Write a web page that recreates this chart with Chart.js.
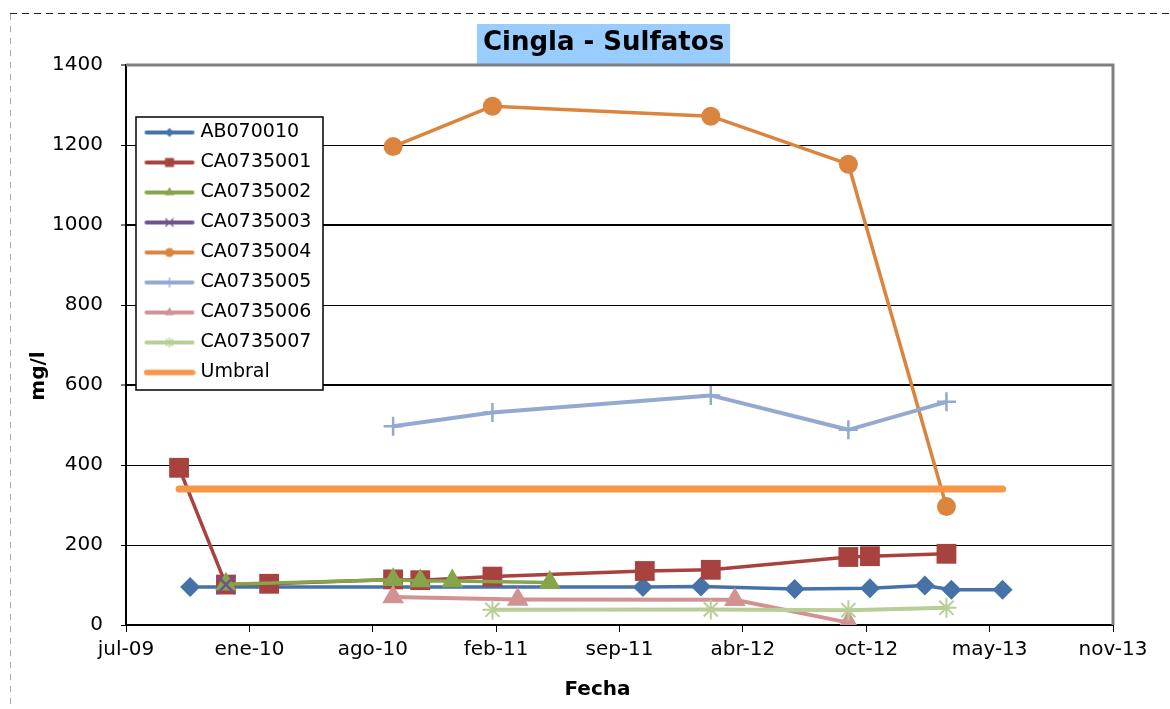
<!DOCTYPE html>
<html>
<head>
<meta charset="utf-8">
<script src="https://cdn.jsdelivr.net/npm/chart.js@4.4.1/dist/chart.umd.min.js"></script>
<style>
html,body{margin:0;padding:0;background:#fff;}
#wrap{position:relative;width:1170px;height:709px;overflow:hidden;}
canvas{display:block;}
</style>
</head>
<body>
<div id="wrap"><canvas id="c" width="1170" height="709"></canvas></div>
<script>
// ---------- DATA ----------
const tickLabels = ['jul-09','ene-10','ago-10','feb-11','sep-11','abr-12','oct-12','may-13','nov-13'];
const yTicks = [0,200,400,600,800,1000,1200,1400];

const fechasAB070010 = ['2009-10-18','2011-10-22','2012-01-24','2012-06-24','2012-10-24','2013-01-21','2013-03-05','2013-05-27'];
const valoresAB070010 = [95, 95, 96, 90, 92, 99, 88, 88];

const fechasCA0735001 = ['2009-09-30','2009-12-15','2010-02-23','2010-09-12','2010-10-26','2011-02-20','2011-10-25','2012-02-09','2012-09-19','2012-10-24','2013-02-25'];
const valoresCA0735001 = [393, 101, 103, 114, 112, 121, 135, 138, 170, 172, 178];

const fechasCA0735002 = ['2009-12-15','2010-09-12','2010-10-26','2010-12-17','2011-05-24'];
const valoresCA0735002 = [102, 113, 110, 110, 106];

const fechasCA0735003 = ['2009-12-15'];
const valoresCA0735003 = [101];

const fechasCA0735004 = ['2010-09-12','2011-02-20','2012-02-09','2012-09-19','2013-02-25'];
const valoresCA0735004 = [1196, 1297, 1272, 1152, 296];

const fechasCA0735005 = ['2010-09-12','2011-02-20','2012-02-09','2012-09-19','2013-02-25'];
const valoresCA0735005 = [497, 531, 574, 488, 558];

const fechasCA0735006 = ['2010-09-12','2011-04-02','2012-03-19','2012-09-19'];
const valoresCA0735006 = [70, 64, 63, 6];

const fechasCA0735007 = ['2011-02-20','2012-02-09','2012-09-19','2013-02-25'];
const valoresCA0735007 = [38, 39, 37, 43];

const fechasUmbral = ['2009-09-30','2013-05-27'];
const valoresUmbral = [340, 340];

// ---------- HELPERS ----------
const EXCEL_EPOCH = Date.UTC(1899, 11, 30);
function serial(f){ return Math.round((Date.parse(f + 'T00:00:00Z') - EXCEL_EPOCH) / 86400000); }
const X_MIN = serial('2009-07-06');   // jul-09
const X_STEP = 200;
const X_MAX = X_MIN + X_STEP * (tickLabels.length - 1);

const FONT = "'DejaVu Sans', sans-serif";
Chart.defaults.font.family = FONT;
Chart.defaults.color = '#000';

const series = [
  {label:'AB070010',  fechas:fechasAB070010,  valores:valoresAB070010,  color:'#4572A7', style:'rectRot',  r:10,   bw:0,   lw:3.5, lr:4.5},
  {label:'CA0735001', fechas:fechasCA0735001, valores:valoresCA0735001, color:'#A8423F', style:'rect',     r:14,   bw:0,   lw:3.5, lr:4.5},
  {label:'CA0735002', fechas:fechasCA0735002, valores:valoresCA0735002, color:'#86A44A', style:'triangle', r:12.5, bw:0,   lw:3.5, lr:5.5},
  {label:'CA0735003', fechas:fechasCA0735003, valores:valoresCA0735003, color:'#6E548D', style:'crossRot', r:13,   bw:2.5, lw:3.5, lr:4},
  {label:'CA0735004', fechas:fechasCA0735004, valores:valoresCA0735004, color:'#DB843D', style:'circle',   r:9.5,  bw:0,   lw:3.5, lr:4.5},
  {label:'CA0735005', fechas:fechasCA0735005, valores:valoresCA0735005, color:'#93A9CF', style:'cross',    r:9.5,  bw:2.5, lw:4,   lr:5},
  {label:'CA0735006', fechas:fechasCA0735006, valores:valoresCA0735006, color:'#D19392', style:'triangle', r:12.5, bw:0,   lw:4,   lr:5.5},
  {label:'CA0735007', fechas:fechasCA0735007, valores:valoresCA0735007, color:'#B9CD96', style:'star',     r:10,   bw:2,   lw:4,   lr:5},
  {label:'Umbral',    fechas:fechasUmbral,    valores:valoresUmbral,    color:'#F79646', style:false,      r:0,    bw:0,   lw:7,   lr:0, cap:'round'}
];

function makeIcon(s){
  const c = document.createElement('canvas');
  c.width = 52; c.height = 20;
  const g = c.getContext('2d');
  g.strokeStyle = s.color; g.fillStyle = s.color; g.lineCap = 'round';
  g.lineWidth = s.style ? 4 : 5.5;
  g.beginPath(); g.moveTo(3, 10); g.lineTo(49, 10); g.stroke();
  const r = s.lr, x = 26, y = 10;
  g.lineCap = 'butt'; g.lineWidth = 1.3;
  g.beginPath();
  switch (s.style) {
    case 'rectRot': g.moveTo(x, y - r); g.lineTo(x + r, y); g.lineTo(x, y + r); g.lineTo(x - r, y); g.closePath(); g.fill(); break;
    case 'rect': g.fillRect(x - r, y - r, 2 * r, 2 * r); break;
    case 'triangle': g.moveTo(x, y - r); g.lineTo(x + r * 0.866, y + r / 2); g.lineTo(x - r * 0.866, y + r / 2); g.closePath(); g.fill(); break;
    case 'circle': g.arc(x, y, r, 0, Math.PI * 2); g.fill(); break;
    case 'crossRot': g.moveTo(x - r, y - r); g.lineTo(x + r, y + r); g.moveTo(x + r, y - r); g.lineTo(x - r, y + r); g.stroke(); break;
    case 'cross': g.moveTo(x - r, y); g.lineTo(x + r, y); g.moveTo(x, y - r); g.lineTo(x, y + r); g.stroke(); break;
    case 'star': {
      const d = r * 0.707;
      g.moveTo(x - r, y); g.lineTo(x + r, y); g.moveTo(x, y - r); g.lineTo(x, y + r);
      g.moveTo(x - d, y - d); g.lineTo(x + d, y + d); g.moveTo(x + d, y - d); g.lineTo(x - d, y + d); g.stroke(); break;
    }
  }
  return c;
}
const legendIcons = series.map(makeIcon);

const datasets = series.map((s, i) => ({
  label: s.label,
  data: s.fechas.map((f, j) => ({x: serial(f), y: s.valores[j]})),
  borderColor: s.color,
  backgroundColor: s.color,
  borderWidth: s.lw,
  borderCapStyle: s.cap || 'butt',
  borderJoinStyle: 'round',
  pointStyle: s.style,
  pointRadius: s.r,
  pointHoverRadius: s.r,
  pointBorderWidth: s.bw,
  pointBackgroundColor: s.color,
  pointBorderColor: s.color,
  tension: 0,
  order: -i
}));

// ---------- DECORATION PLUGIN ----------
const decor = {
  id: 'decor',
  afterLayout(chart) {
    const tb = chart.titleBlock;
    if (tb) { tb.left = 453; tb.right = 754; }
    const lg = chart.legend;
    if (lg) {
      lg.left = 137; lg.top = 112;
      if (!lg.__wrapped) {
        const orig = lg.draw;
        lg.draw = function() {
          const c = this.ctx;
          c.save();
          c.fillStyle = '#fff'; c.fillRect(136, 117, 187, 273);
          c.strokeStyle = '#000'; c.lineWidth = 1.5; c.strokeRect(136, 117, 187, 273);
          c.restore();
          return orig.apply(this, arguments);
        };
        lg.__wrapped = true;
      }
    }
    const ys = chart.scales.y;
    if (ys && !ys.__wrapped) {
      const o = ys.drawTitle;
      ys.drawTitle = function() { const c = this.ctx; c.save(); c.translate(0, 31); o.call(this); c.restore(); };
      ys.__wrapped = true;
    }
    const xs = chart.scales.x;
    if (xs && !xs.__wrapped) {
      const o = xs.drawTitle;
      xs.drawTitle = function() { const c = this.ctx; c.save(); c.translate(-22, 0); o.call(this); c.restore(); };
      xs.__wrapped = true;
    }
  },
  beforeDraw(chart) {
    const c = chart.ctx;
    c.save();
    // dashed outer frame
    c.setLineDash([7, 5]); c.strokeStyle = '#222'; c.lineWidth = 1.2;
    c.beginPath(); c.moveTo(10, 13.5); c.lineTo(1170, 13.5); c.stroke();
    c.setLineDash([6, 6]); c.strokeStyle = '#aaa'; c.lineWidth = 1;
    c.beginPath(); c.moveTo(10.5, 14); c.lineTo(10.5, 709); c.stroke();
    c.setLineDash([]);
    // title background
    const tb = chart.titleBlock;
    c.font = 'bold 26px ' + FONT;
    const w = c.measureText(chart.options.plugins.title.text).width;
    const cx = (tb.left + tb.right) / 2;
    c.fillStyle = '#99CCFF';
    c.fillRect(cx - w / 2 - 6, 24, w + 12, 41);
    c.restore();
  },
  beforeDatasetsDraw(chart) {
    const a = chart.chartArea, c = chart.ctx;
    c.save();
    c.strokeStyle = '#808080'; c.lineWidth = 3;
    c.beginPath(); c.moveTo(a.left, a.top); c.lineTo(a.right, a.top); c.lineTo(a.right, a.bottom); c.stroke();
    c.restore();
  }
};

// ---------- CHART ----------
new Chart(document.getElementById('c'), {
  type: 'line',
  data: { datasets },
  plugins: [decor],
  options: {
    responsive: false,
    animation: false,
    events: [],
    devicePixelRatio: 1,
    layout: { padding: { left: 0, right: 57, top: 0, bottom: 0 } },
    plugins: {
      tooltip: { enabled: false },
      title: {
        display: true, text: 'Cingla - Sulfatos', color: '#000',
        font: { size: 26, weight: 'bold', lineHeight: 1.2 },
        padding: { top: 28, bottom: 5.8 }
      },
      legend: {
        position: 'chartArea', align: 'start',
        labels: {
          usePointStyle: true, pointStyleWidth: 43, boxHeight: 19, padding: 11,
          font: { size: 19 }, color: '#000',
          generateLabels: (chart) => chart.data.datasets.map((d, i) => ({
            text: d.label, pointStyle: legendIcons[i], fillStyle: 'rgba(0,0,0,0)',
            strokeStyle: 'rgba(0,0,0,0)', lineWidth: 0, fontColor: '#000', hidden: false, datasetIndex: i
          }))
        }
      }
    },
    scales: {
      x: {
        type: 'linear', min: X_MIN, max: X_MAX,
        ticks: {
          stepSize: X_STEP, autoSkip: false, maxRotation: 0, minRotation: 0,
          font: { size: 20 }, color: '#000', padding: 6,
          callback: (v) => { const k = Math.round((v - X_MIN) / X_STEP); return tickLabels[k] !== undefined ? tickLabels[k] : ''; }
        },
        grid: { drawOnChartArea: false, drawTicks: true, tickLength: 7, color: '#000', lineWidth: 1 },
        border: { display: true, color: '#000', width: 2 },
        title: { display: true, text: 'Fecha', color: '#000', font: { size: 20, weight: 'bold', lineHeight: 1.2 }, padding: { top: 0, bottom: 7 } },
        afterFit: (s) => { s.height = 84; }
      },
      y: {
        type: 'linear', min: yTicks[0], max: yTicks[yTicks.length - 1],
        afterBuildTicks: (s) => { s.ticks = yTicks.map(v => ({ value: v })); },
        ticks: { font: { size: 20 }, color: '#000', padding: 18, callback: (v) => String(v) },
        grid: {
          color: '#000',
          lineWidth: (ctx) => { const v = ctx.tick ? ctx.tick.value : -1; return v === 1400 ? 0 : (v === 600 || v === 1000 ? 2 : 1); },
          tickLength: 5, tickWidth: 1, tickColor: '#000', drawTicks: true
        },
        border: { display: true, color: '#000', width: 2 },
        title: { display: true, text: 'mg/l', color: '#000', font: { size: 20, weight: 'bold', lineHeight: 1.2 }, padding: { top: 27, bottom: 0 } },
        afterFit: (s) => { s.width = 126; }
      }
    }
  }
});
</script>
</body>
</html>
